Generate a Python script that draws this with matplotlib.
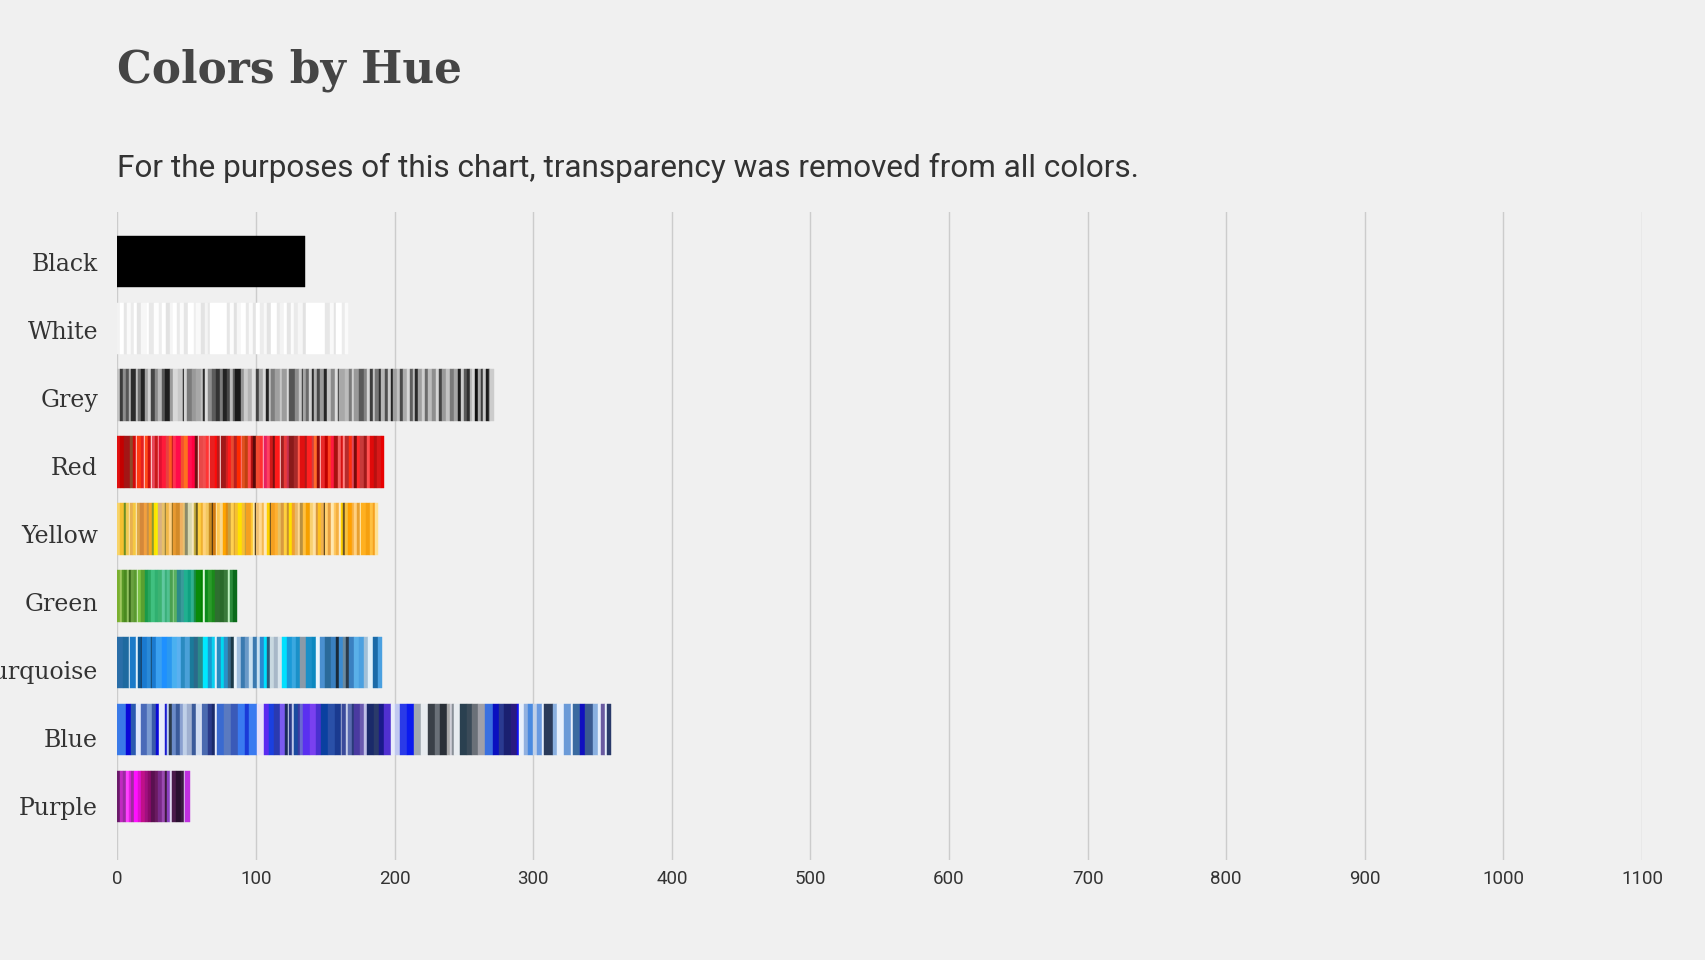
import numpy as np
import matplotlib.pyplot as plt

###### Colors by Hue
# every stripe = (color, count), bar length = total count per hue

categories = ["Black", "White", "Grey", "Red", "Yellow", "Green", "Turquoise", "Blue", "Purple"]

black_runs = [("#000000", 135)]

white_runs = [
    ("#f2f2f2", 2), ("#ffffff", 3), ("#e6e6e6", 2), ("#fafafa", 3), ("#ebebeb", 2), ("#ffffff", 2),
    ("#e4e4e4", 3), ("#f7f7f7", 4), ("#ffffff", 2), ("#e8e8e8", 3), ("#fdfdfd", 4), ("#ededed", 2),
    ("#ffffff", 3), ("#e2e2e2", 3), ("#f5f5f5", 2), ("#ffffff", 3), ("#e9e9e9", 2), ("#fbfbfb", 3),
    ("#e5e5e5", 3), ("#ffffff", 4), ("#eeeeee", 2), ("#f9f9f9", 3), ("#e3e3e3", 3), ("#f4f4f4", 2),
    ("#e7e7e7", 2), ("#ffffff", 12), ("#e6e6e6", 2), ("#fcfcfc", 3), ("#e1e1e1", 2), ("#f6f6f6", 3),
    ("#ffffff", 4), ("#e8e8e8", 2), ("#fafafa", 3), ("#e4e4e4", 2), ("#ffffff", 3), ("#ececec", 3),
    ("#f8f8f8", 2), ("#e3e3e3", 3), ("#ffffff", 4), ("#e9e9e9", 2), ("#f3f3f3", 3), ("#ffffff", 2),
    ("#e5e5e5", 3), ("#fbfbfb", 2), ("#eaeaea", 3), ("#f6f6f6", 4), ("#e2e2e2", 2), ("#ffffff", 14),
    ("#e7e7e7", 3), ("#f9f9f9", 3), ("#e4e4e4", 2), ("#ffffff", 4), ("#ebebeb", 2), ("#fafafa", 2),
]

grey_runs = [
    ("#c4c4c4", 2), ("#3a3a3a", 2), ("#8c8c8c", 2), ("#555555", 2), ("#b0b0b0", 2), ("#2b2b2b", 3),
    ("#bdbdbd", 2), ("#6e6e6e", 2), ("#222222", 3), ("#a0a0a0", 2), ("#d0d0d0", 2), ("#444444", 3),
    ("#8a8a8a", 2), ("#b8b8b8", 3), ("#5a5a5a", 2), ("#1e1e1e", 4), ("#9a9a9a", 2), ("#d8d8d8", 4),
    ("#c8c8c8", 3), ("#111111", 1), ("#d4d4d4", 2), ("#7a7a7a", 4), ("#999999", 3), ("#a8a8a8", 3),
    ("#c0c0c0", 2), ("#2a2a2a", 1), ("#dcdcdc", 2), ("#8e8e8e", 3), ("#5c5c5c", 3), ("#333333", 3),
    ("#7c7c7c", 2), ("#222222", 3), ("#484848", 2), ("#bcbcbc", 2), ("#5e5e5e", 2), ("#1a1a1a", 4),
    ("#959595", 2), ("#cccccc", 3), ("#b4b4b4", 3), ("#e0e0e0", 3), ("#444444", 2), ("#a8a8a8", 3),
    ("#d8d8d8", 2), ("#222222", 2), ("#bababa", 2), ("#7e7e7e", 3), ("#a0a0a0", 3), ("#c6c6c6", 2),
    ("#9c9c9c", 3), ("#dadada", 2), ("#555555", 4), ("#8e8e8e", 3), ("#c8c8c8", 2), ("#303030", 1),
    ("#a4a4a4", 2), ("#6a6a6a", 2), ("#d2d2d2", 2), ("#2c2c2c", 2), ("#b0b0b0", 2), ("#4a4a4a", 2),
    ("#9a9a9a", 3), ("#262626", 2), ("#c4c4c4", 3), ("#8a8a8a", 3), ("#dcdcdc", 2), ("#3a3a3a", 1),
    ("#a8a8a8", 4), ("#bcbcbc", 3), ("#7a7a7a", 2), ("#d0d0d0", 2), ("#999999", 3), ("#595959", 4),
    ("#858585", 2), ("#d6d6d6", 2), ("#3c3c3c", 2), ("#c2c2c2", 2), ("#767676", 3), ("#2e2e2e", 1),
    ("#b6b6b6", 3), ("#505050", 2), ("#cacaca", 2), ("#222222", 2), ("#9e9e9e", 3), ("#c0c0c0", 2),
    ("#4a4a4a", 2), ("#acacac", 3), ("#d8d8d8", 2), ("#5e5e5e", 2), ("#b8b8b8", 2), ("#2a2a2a", 2),
    ("#a0a0a0", 3), ("#cecece", 2), ("#6c6c6c", 2), ("#bcbcbc", 3), ("#8e8e8e", 3), ("#d4d4d4", 2),
    ("#444444", 2), ("#9a9a9a", 3), ("#c4c4c4", 3), ("#7a7a7a", 3), ("#a6a6a6", 3), ("#1c1c1c", 2),
    ("#cbcbcb", 2), ("#5a5a5a", 2), ("#2e2e2e", 2), ("#b2b2b2", 2), ("#d6d6d6", 2), ("#111111", 2),
    ("#a8a8a8", 2), ("#3c3c3c", 2), ("#c8c8c8", 2), ("#1a1a1a", 2), ("#8c8c8c", 1), ("#cccccc", 3),
]

red_runs = [
    ("#e01010", 2), ("#c40000", 3), ("#a31515", 4), ("#8e4a2a", 2), ("#d20a0a", 2), ("#ffd0d0", 1),
    ("#ff3a10", 3), ("#e52020", 2), ("#ffd5d5", 1), ("#ff4a1a", 2), ("#d01010", 2), ("#ffe0e0", 1),
    ("#e8485a", 2), ("#c81a1a", 2), ("#ff8a9a", 1), ("#e01030", 2), ("#ff1a3a", 3), ("#e84040", 2),
    ("#ff5a20", 2), ("#c01818", 1), ("#ff3050", 2), ("#ff0a4a", 4), ("#f25030", 2), ("#ff7020", 3),
    ("#ff1050", 3), ("#ff0040", 2), ("#6e1010", 2), ("#ffd0d0", 1), ("#e84848", 3), ("#f05050", 2),
    ("#ff3535", 2), ("#ffb0b0", 1), ("#e82020", 3), ("#ff0a0a", 2), ("#b81a1a", 2), ("#ffe0e0", 1),
    ("#a01818", 3), ("#d02020", 2), ("#ff1a1a", 2), ("#e84a30", 2), ("#b82020", 2), ("#ff2a00", 3),
    ("#ff7a7a", 1), ("#e05020", 2), ("#c04010", 2), ("#ff4a4a", 2), ("#b01010", 2), ("#5a0a0a", 2),
    ("#f04a30", 3), ("#ff3030", 2), ("#ffb0c0", 1), ("#e82060", 2), ("#ff4060", 2), ("#d01818", 2),
    ("#7a1010", 2), ("#ff1a1a", 3), ("#ffd0d0", 1), ("#a02020", 2), ("#e83a3a", 2), ("#c83050", 2),
    ("#8a1a1a", 3), ("#a82a2a", 3), ("#ff5a4a", 2), ("#e01010", 3), ("#b01818", 2), ("#ff2020", 3),
    ("#d04040", 2), ("#ff6a2a", 2), ("#900a0a", 2), ("#ffc0c0", 1), ("#e82828", 3), ("#c00000", 2),
    ("#ff4020", 2), ("#ff1a40", 2), ("#a81010", 3), ("#f06060", 2), ("#d81010", 2), ("#ff8080", 1),
    ("#b82a2a", 3), ("#ff3010", 2), ("#e04a5a", 2), ("#7a0a0a", 2), ("#ff2a2a", 2), ("#c83a3a", 3),
    ("#a01a1a", 2), ("#ff5050", 2), ("#e00a0a", 3), ("#b81010", 2), ("#d81818", 3), ("#e80000", 2),
]

yellow_runs = [
    ("#f7d36a", 2), ("#f5c030", 3), ("#6b8e23", 1), ("#f0c850", 2), ("#fde9b0", 1), ("#e8b050", 2),
    ("#f5c842", 2), ("#fff0c0", 1), ("#e0a848", 2), ("#d4883a", 3), ("#f2a040", 2), ("#c89048", 2),
    ("#f5a623", 2), ("#8a9a30", 1), ("#ffe000", 2), ("#f7f000", 1), ("#d8b080", 3), ("#e8c068", 2),
    ("#8a7a3a", 1), ("#f0b848", 2), ("#ffd080", 2), ("#8b6a20", 1), ("#e89a30", 2), ("#d28a28", 3),
    ("#f0b060", 2), ("#e8c070", 2), ("#8a8a6a", 2), ("#d8d8b0", 3), ("#f5e8c0", 1), ("#c8b040", 2),
    ("#6a5a20", 1), ("#ffd040", 2), ("#f0b030", 2), ("#ffd27a", 2), ("#f4c860", 2), ("#c88a20", 2),
    ("#3a2a10", 1), ("#d07a10", 2), ("#ffe8b0", 1), ("#ffc850", 2), ("#f8d890", 2), ("#ffa500", 2),
    ("#e08a10", 2), ("#c8a040", 2), ("#ffd050", 2), ("#d8a030", 1), ("#f5c030", 2), ("#ffe000", 3),
    ("#f8c030", 2), ("#c0a040", 1), ("#f5a020", 3), ("#ffc830", 2), ("#ffe8a0", 1), ("#2a2010", 1),
    ("#f0c070", 2), ("#ffd890", 2), ("#f5b850", 2), ("#ffe8b8", 2), ("#ffd000", 2), ("#5a4a20", 1),
    ("#f5a020", 3), ("#ffb030", 2), ("#e8c060", 2), ("#d89a40", 2), ("#ffd040", 2), ("#c89030", 2),
    ("#ffe000", 2), ("#f0a030", 2), ("#e8b868", 2), ("#ffd890", 2), ("#b89040", 2), ("#ffc040", 2),
    ("#f5a000", 3), ("#f8d070", 2), ("#ffe0a0", 2), ("#d89840", 2), ("#ffc020", 2), ("#f0b050", 2),
    ("#3a2a10", 1), ("#ffd070", 2), ("#e8a040", 2), ("#ffe8b0", 2), ("#ffc860", 2), ("#f5b040", 2),
    ("#ffe8c0", 1), ("#ffd000", 2), ("#6a5020", 1), ("#f5c040", 2), ("#ffa000", 3), ("#f8b040", 2),
    ("#ffd080", 2), ("#e8a030", 2), ("#fff0c0", 1), ("#ffb020", 3), ("#f5a010", 3), ("#ffc040", 2),
    ("#f5a020", 2), ("#ffe090", 2),
]

green_runs = [
    ("#7ab030", 2), ("#a0c860", 1), ("#5a9a28", 2), ("#4a8a20", 2), ("#90c060", 1), ("#3a6a1a", 2),
    ("#6aa040", 2), ("#5a9a30", 2), ("#d0f0c0", 1), ("#7ac040", 2), ("#5aa030", 3), ("#1a9a4a", 2),
    ("#2aa860", 2), ("#40c080", 3), ("#30b070", 2), ("#3cb371", 3), ("#60c8a0", 2), ("#3ab07a", 2),
    ("#50c090", 2), ("#4aa050", 2), ("#90d090", 1), ("#5ab060", 2), ("#2a8a8a", 3), ("#3a9a9a", 2),
    ("#20b090", 3), ("#10a080", 2), ("#30b090", 2), ("#1a8a4a", 2), ("#0a8a0a", 3), ("#008000", 2),
    ("#d8f8d8", 1), ("#0a8a1a", 2), ("#2a9a2a", 3), ("#1a8a1a", 2), ("#2e6e30", 4), ("#2a6a2a", 3),
    ("#3a7a3a", 3), ("#c0f0c0", 1), ("#2a8a3a", 2), ("#0a6a1a", 3),
]

turquoise_runs = [
    ("#2a6ea8", 4), ("#1e6aa0", 4), ("#d8ecf8", 1), ("#1a7ac8", 4), ("#e0f0fa", 2), ("#0a5a9a", 2),
    ("#1a3a5a", 1), ("#1a7ad0", 3), ("#2a8ad8", 3), ("#1a4a6a", 1), ("#1a7ad0", 3), ("#3aa0f0", 4),
    ("#1e90ff", 4), ("#2a98f0", 3), ("#4ab0f0", 4), ("#5ab0f0", 3), ("#2a8ac0", 3), ("#4aa0d8", 3),
    ("#1a7a9a", 3), ("#2a6a8a", 3), ("#2a8a8a", 4), ("#00e8ff", 3), ("#1a9ad0", 3), ("#0ad0f0", 2),
    ("#e0f0fa", 2), ("#2a8ac0", 3), ("#00d8f0", 2), ("#2a90c8", 3), ("#3a6a8a", 2), ("#1a3a4a", 2),
    ("#e8f4fc", 2), ("#a0c0e0", 3), ("#3a7ab0", 3), ("#6a9ac8", 3), ("#c8e0f0", 3), ("#3a7ab0", 3),
    ("#c8e0f0", 2), ("#2a8ad0", 3), ("#00e0ff", 2), ("#2a5a7a", 2), ("#c8d8e0", 3), ("#a8b8c8", 3),
    ("#d8e4ec", 3), ("#00e0ff", 3), ("#1a9ad8", 4), ("#3aa8e0", 3), ("#1a90c8", 3), ("#8a9aa8", 4),
    ("#1a90c8", 4), ("#0a88c0", 3), ("#e8f4fc", 3), ("#4a90d0", 4), ("#2a6a9a", 4), ("#3a80c0", 4),
    ("#1a2a3a", 2), ("#3a8ad0", 3), ("#6a8aa0", 2), ("#2a3a4a", 2), ("#3a80c0", 4), ("#5ab0e8", 3),
    ("#4aa0e0", 4), ("#a0c0d8", 3), ("#e0f0fa", 3), ("#1a6aa8", 4), ("#4aa0e0", 3),
]

blue_runs = [
    ("#3a7ae8", 6), ("#0a0ad8", 4), ("#2a5ab0", 3), ("#e0e8fa", 4), ("#4a6ab8", 4), ("#7a9ad0", 4),
    ("#3a5aa8", 3), ("#0a0ad8", 2), ("#e8ecfa", 4), ("#1a1ad0", 2), ("#c0d0f0", 1), ("#2a3a4a", 2),
    ("#6a8ac8", 3), ("#3a5a9a", 3), ("#8aa0d0", 2), ("#c0d0e8", 3), ("#a0b0d0", 4), ("#3a5a9a", 3),
    ("#d0dcf0", 3), ("#e8ecfa", 1), ("#4a6ab0", 4), ("#2a3a8a", 3), ("#1a2a6a", 2), ("#e8ecfa", 2),
    ("#3a6ad0", 5), ("#5a7ac0", 5), ("#3a5ab8", 5), ("#3a7af0", 5), ("#1a3ad8", 3), ("#3a7af0", 6),
    ("#e8e0f8", 5), ("#5a2af0", 3), ("#1a40e0", 4), ("#2a3ab0", 4), ("#7a5af0", 4), ("#1a2a5a", 2),
    ("#d0d8f0", 1), ("#2a3a8a", 2), ("#c0c8e8", 1), ("#1a4aa0", 3), ("#3a3aa0", 2), ("#6a6ad0", 2),
    ("#5a30f0", 5), ("#7a40f0", 4), ("#4a30d0", 4), ("#0a40a0", 5), ("#2a50a8", 5), ("#1a3a90", 4),
    ("#a0a8d0", 1), ("#3a4a9a", 3), ("#c8d0e8", 1), ("#5a6ab0", 3), ("#2a3a7a", 2), ("#4a3aa0", 4),
    ("#6a5ab0", 3), ("#c0c0e8", 2), ("#1a2a6a", 5), ("#2a3a6a", 4), ("#1a1a8a", 3), ("#5030d0", 5),
    ("#e8ecfa", 3), ("#c0c8f0", 4), ("#2a3ae8", 5), ("#0a1af0", 5), ("#a0a8b0", 5), ("#e8ecf0", 5),
    ("#3a4048", 5), ("#6a7078", 4), ("#2a3038", 5), ("#a8a8a8", 2), ("#d0d0d8", 1), ("#8a9098", 2),
    ("#e8ecf0", 4), ("#2a4050", 5), ("#3a4a58", 4), ("#6a7078", 4), ("#a0a0a8", 5), ("#3a70e0", 6),
    ("#0a10c0", 4), ("#2a3a90", 4), ("#1a2070", 5), ("#2a1a80", 4), ("#1010f0", 2), ("#e8f0fc", 3),
    ("#90b0e0", 3), ("#4a8ae0", 4), ("#c0d0e8", 3), ("#6a9ae0", 3), ("#e8f0fc", 2), ("#2a3a5a", 6),
    ("#8ab0e0", 3), ("#e8f0fc", 5), ("#6a9ad8", 5), ("#e8f0fc", 2), ("#3a6aa0", 5), ("#1010c0", 3),
    ("#3a5a90", 6), ("#8ab0e0", 4), ("#e8f0fc", 2), ("#6a5aa0", 3), ("#e8f0fc", 1), ("#2a3a6a", 3),
]

purple_runs = [
    ("#6a1a6a", 2), ("#c02ac0", 2), ("#9a2aa0", 2), ("#ff40ff", 2), ("#e020e0", 2), ("#a02aa0", 2),
    ("#ff10ff", 3), ("#e010d0", 2), ("#c0108a", 3), ("#a01080", 2), ("#8a0a6a", 2), ("#5a1050", 3),
    ("#6a1a60", 2), ("#7a2a8a", 3), ("#9a4ab0", 2), ("#3a1a3a", 2), ("#8a40c0", 2), ("#e0d8f0", 1),
    ("#4a1a4a", 3), ("#2a1030", 4), ("#3a1a40", 2), ("#d8c8e8", 1), ("#c030e0", 3),
]

all_runs = [black_runs, white_runs, grey_runs, red_runs, yellow_runs,
            green_runs, turquoise_runs, blue_runs, purple_runs]

xticks = [0, 100, 200, 300, 400, 500, 600, 700, 800, 900, 1000, 1100]

bg = "#f0f0f0"

fig = plt.figure(figsize=(17.06, 9.6), dpi=100, facecolor=bg)
ax = fig.add_axes([117.5 / 1706, 1 - 860 / 960, (1642 - 117.5) / 1706, (860 - 212) / 960])
ax.set_facecolor(bg)

for i, runs in enumerate(all_runs):
    colors = [c for c, n in runs]
    widths = np.array([n for c, n in runs], dtype=float)
    lefts = np.concatenate([[0], np.cumsum(widths)[:-1]])
    ax.barh(i, widths, left=lefts, height=0.77, color=colors,
            edgecolor=colors, linewidth=0.3, zorder=3)

n = len(categories)
ax.set_xlim(0, 1100)
ax.set_ylim(n - 1 + 0.95, -0.74)

ax.set_xticks(xticks)
ax.set_xticklabels([str(t) for t in xticks], fontsize=13.5, color="#333333", family="Roboto")
ax.set_yticks([])
ax.tick_params(axis="x", length=0, pad=7)

ax.grid(axis="x", color="#cccccc", linewidth=1, zorder=0)
ax.grid(axis="y", visible=False)
for s in ax.spines.values():
    s.set_visible(False)

# category labels sit on their own scale (slightly wider spacing than the bars)
ax2 = ax.twinx()
ax2.set_ylim(n - 1 + 0.79, -0.735)
ax2.yaxis.tick_left()
ax2.set_yticks(range(n))
ax2.set_yticklabels(categories, fontsize=17, color="#333333", family="DejaVu Serif")
ax2.tick_params(axis="y", length=0, pad=14)
for s in ax2.spines.values():
    s.set_visible(False)

fig.text(117.5 / 1706, 1 - 83 / 960, "Colors by Hue", fontsize=31.5, fontweight="bold",
         family="DejaVu Serif", color="#454545", va="baseline", ha="left")
fig.text(117.5 / 1706, 1 - 177 / 960,
         "For the purposes of this chart, transparency was removed from all colors.",
         fontsize=22.7, family="Roboto", color="#333333", va="baseline", ha="left")

fig.savefig("out.png", dpi=100, facecolor=bg)
